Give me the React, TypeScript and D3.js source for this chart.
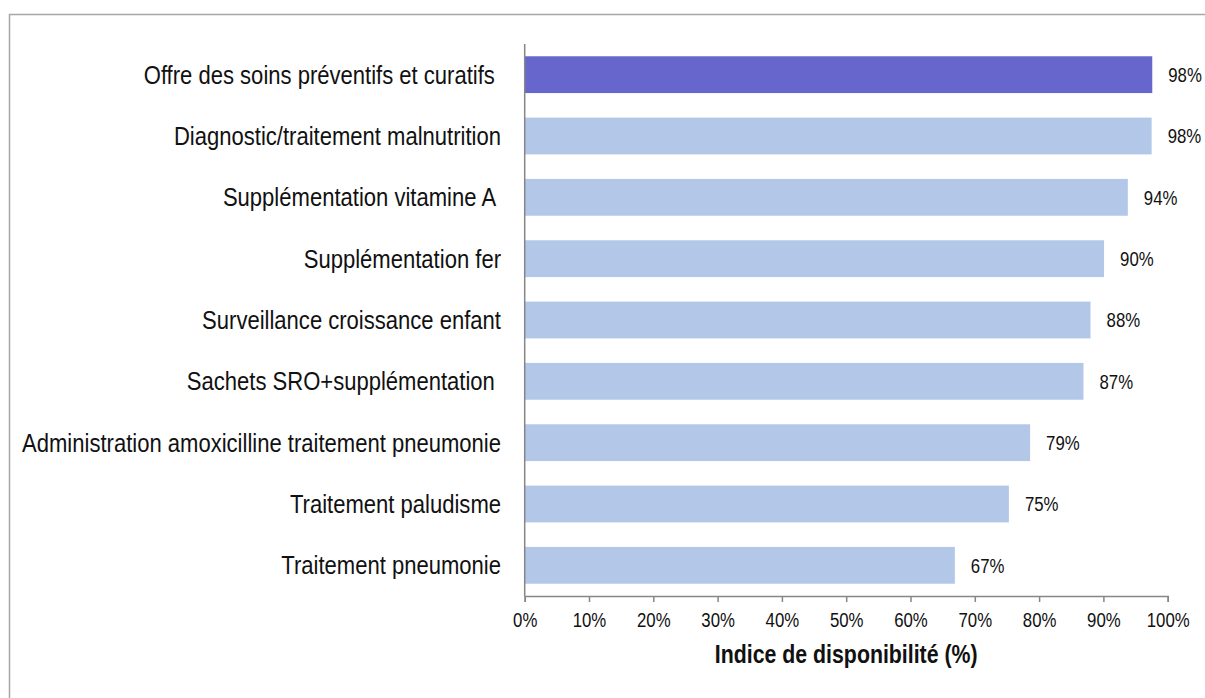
import React, { useEffect, useRef } from 'react';
import * as d3 from 'd3';

// Categories, top to bottom
const categories = [
  'Offre des soins préventifs et curatifs ',
  'Diagnostic/traitement malnutrition',
  'Supplémentation vitamine A ',
  'Supplémentation fer',
  'Surveillance croissance enfant',
  'Sachets SRO+supplémentation ',
  'Administration amoxicilline traitement pneumonie',
  'Traitement paludisme',
  'Traitement pneumonie'
];
const values = [97.6, 97.5, 93.8, 90.1, 88.0, 86.9, 78.6, 75.3, 66.9];
const valueLabels = ['98%', '98%', '94%', '90%', '88%', '87%', '79%', '75%', '67%'];
const highlighted = [true, false, false, false, false, false, false, false, false];
const xTicks = [0, 10, 20, 30, 40, 50, 60, 70, 80, 90, 100];
const axisTitle = 'Indice de disponibilité (%)';

// no Arial Narrow here, so squeeze Liberation Sans horizontally
const FONT = '"Liberation Sans", Arial, sans-serif';
const SQUEEZE = 'scale(0.82,1)';

const App: React.FC = () => {
  const ref = useRef<SVGSVGElement>(null);

  useEffect(() => {
    if (!ref.current) return;
    const svg = d3.select(ref.current);
    svg.selectAll('*').remove();

    const left = 524.7, right = 1167.7, top = 44, bottom = 596;

    // outer frame
    svg.append('rect').attr('x', 9.5).attr('y', 14.5).attr('width', 1200).attr('height', 700)
      .attr('fill', 'white').attr('stroke', '#A6A6A6').attr('stroke-width', 1.5);

    const x = d3.scaleLinear().domain([0, 100]).range([left, right]);
    const y = d3.scaleBand().domain(categories).range([top, bottom]).paddingInner(0.4).paddingOuter(0.2);
    const cy = (d: string) => (y(d) || 0) + y.bandwidth() / 2;

    // bars
    svg.selectAll('rect.bar').data(categories).enter().append('rect')
      .attr('class', 'bar')
      .attr('x', x(0))
      .attr('y', d => y(d) || 0)
      .attr('width', (d, i) => x(values[i]) - x(0))
      .attr('height', y.bandwidth())
      .attr('fill', (d, i) => highlighted[i] ? '#6666CC' : '#B3C7E8');

    // value labels
    svg.selectAll('text.val').data(categories).enter().append('text')
      .attr('class', 'val')
      .attr('transform', (d, i) => `translate(${x(values[i]) + 16},${cy(d)}) ${SQUEEZE}`)
      .attr('dy', '0.35em')
      .style('font-family', FONT).style('font-size', '20.5px').attr('fill', '#111')
      .text((d, i) => valueLabels[i]);

    // category labels
    svg.selectAll('text.cat').data(categories).enter().append('text')
      .attr('class', 'cat')
      .attr('transform', d => `translate(501,${cy(d)}) scale(0.848,1)`)
      .attr('dy', '0.35em')
      .attr('text-anchor', 'end')
      .attr('xml:space', 'preserve')
      .style('white-space', 'pre')
      .style('font-family', FONT).style('font-size', '26px').attr('fill', '#111')
      .text(d => d);

    // x axis
    const gx = svg.append('g').attr('transform', `translate(0,${bottom})`)
      .call(d3.axisBottom(x).tickValues(xTicks).tickSize(6).tickPadding(10).tickFormat(d => `${d}%`));
    gx.select('.domain').attr('stroke', '#868686').attr('stroke-width', 1.5);
    gx.selectAll('.tick line').attr('stroke', '#868686').attr('stroke-width', 1.5);
    gx.selectAll('.tick text')
      .attr('transform', SQUEEZE)
      .style('font-family', FONT).style('font-size', '20.5px').attr('fill', '#111');

    // y axis line
    svg.append('line').attr('x1', left).attr('x2', left).attr('y1', top).attr('y2', bottom)
      .attr('stroke', '#868686').attr('stroke-width', 1.5);

    // axis title
    svg.append('text')
      .attr('transform', `translate(${(left + right) / 2},663) ${SQUEEZE}`)
      .attr('text-anchor', 'middle')
      .style('font-family', FONT).style('font-size', '26px').style('font-weight', 'bold').attr('fill', '#111')
      .text(axisTitle);
  }, []);

  return <svg ref={ref} width={1205} height={698} style={{ position: 'absolute', left: 0, top: 0, background: 'white' }} />;
};

export default App;
